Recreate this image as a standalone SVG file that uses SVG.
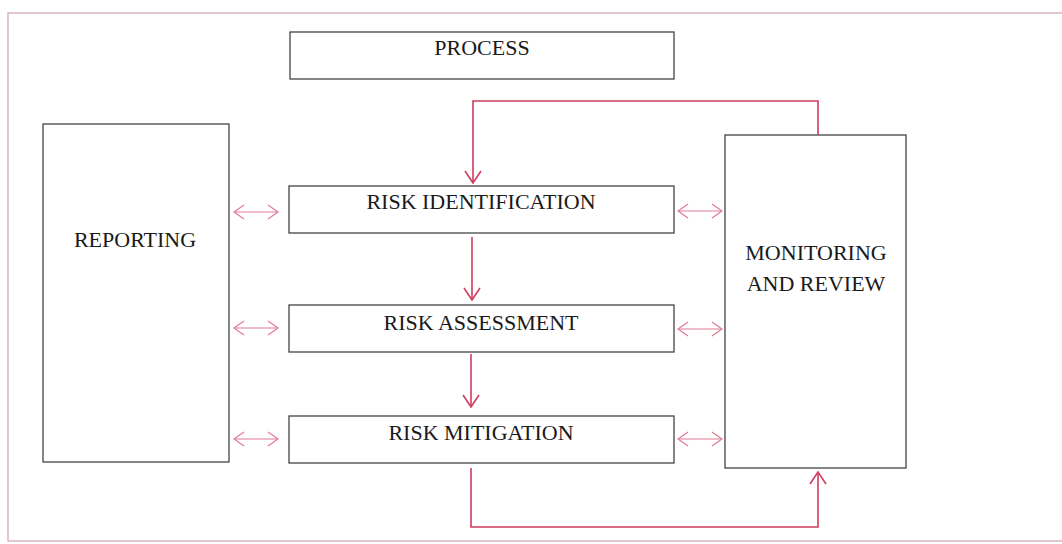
<svg xmlns="http://www.w3.org/2000/svg" width="1062" height="544" viewBox="0 0 1062 544">
<defs>
<marker id="vr" viewBox="0 0 14 18" refX="13" refY="9" markerWidth="14" markerHeight="18" markerUnits="userSpaceOnUse" orient="auto-start-reverse">
<path d="M1,1 L13,9 L1,17" fill="none" stroke="#d13b5e" stroke-width="1.6"/>
</marker>
<marker id="vp" viewBox="0 0 12 16" refX="11" refY="8" markerWidth="12" markerHeight="16" markerUnits="userSpaceOnUse" orient="auto-start-reverse">
<path d="M1,1 L11,8 L1,15" fill="none" stroke="#e07a94" stroke-width="1.2"/>
</marker>
</defs>
<style>
.box{fill:#fff;stroke:#444;stroke-width:1.3}
.t{font-family:"Liberation Serif","Times New Roman",serif;font-size:22px;fill:#1a1a1a;text-anchor:middle}
.main{fill:none;stroke:#d13b5e;stroke-width:1.6}
.dbl{fill:none;stroke:#e07a94;stroke-width:1.2}
</style>
<rect width="1062" height="544" fill="#fff"/>
<rect x="8" y="13" width="1062" height="528" fill="none" stroke="#d3a0ac" stroke-width="1.2"/>
<g id="process"><rect class="box" x="290" y="32" width="384" height="47"/><text class="t" x="482" y="55">PROCESS</text></g>
<g id="reporting"><rect class="box" x="43" y="124" width="186" height="338"/><text class="t" x="135" y="247">REPORTING</text></g>
<g id="monitoring"><rect class="box" x="725" y="135" width="181" height="333"/><text class="t" x="816" y="260">MONITORING</text><text class="t" x="816" y="291">AND REVIEW</text></g>
<g id="risk-identification"><rect class="box" x="289" y="186" width="385" height="47"/><text class="t" x="481" y="209">RISK IDENTIFICATION</text></g>
<g id="risk-assessment"><rect class="box" x="289" y="305" width="385" height="47"/><text class="t" x="481" y="330">RISK ASSESSMENT</text></g>
<g id="risk-mitigation"><rect class="box" x="289" y="416" width="385" height="47"/><text class="t" x="481" y="440">RISK MITIGATION</text></g>
<g id="connectors">
<path class="main" d="M818,135 V101 H473 V183" marker-end="url(#vr)"/>
<path class="main" d="M472,237 V300" marker-end="url(#vr)"/>
<path class="main" d="M471,354 V407" marker-end="url(#vr)"/>
<path class="main" d="M471,468 V527 H818 V472" marker-end="url(#vr)"/>
<path class="dbl" d="M234,212 H278" marker-start="url(#vp)" marker-end="url(#vp)"/>
<path class="dbl" d="M234,328 H278" marker-start="url(#vp)" marker-end="url(#vp)"/>
<path class="dbl" d="M234,439 H278" marker-start="url(#vp)" marker-end="url(#vp)"/>
<path class="dbl" d="M678,211 H722" marker-start="url(#vp)" marker-end="url(#vp)"/>
<path class="dbl" d="M678,329 H722" marker-start="url(#vp)" marker-end="url(#vp)"/>
<path class="dbl" d="M678,439 H722" marker-start="url(#vp)" marker-end="url(#vp)"/>
</g>
</svg>
